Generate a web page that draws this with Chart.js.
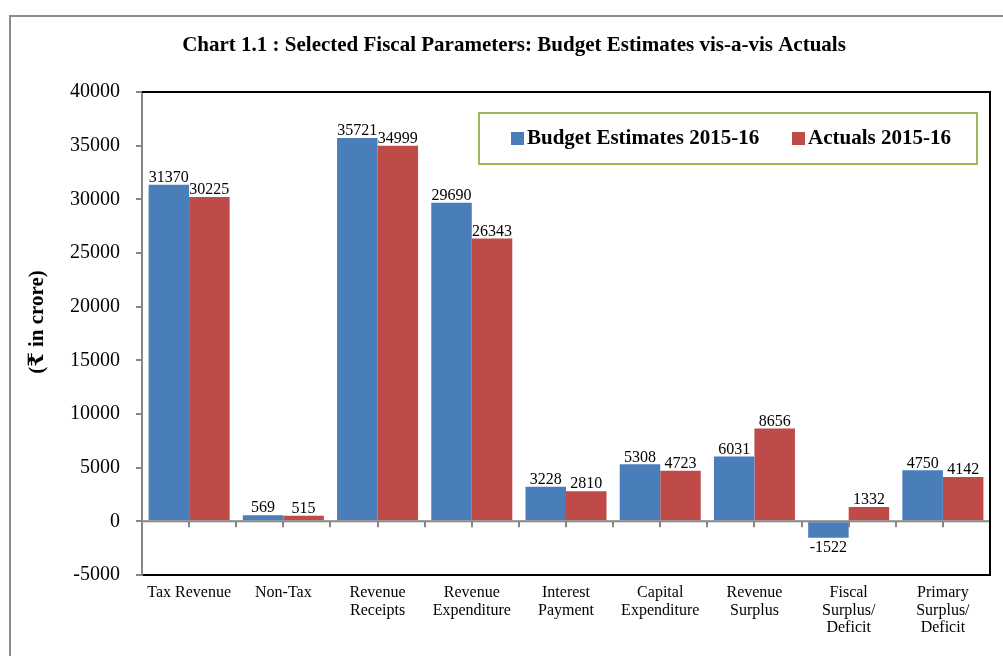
<!DOCTYPE html>
<html>
<head>
<meta charset="utf-8">
<script src="https://cdn.jsdelivr.net/npm/chart.js@4.4.0/dist/chart.umd.min.js"></script>
<style>
  html, body { margin: 0; padding: 0; background: #fff; }
  canvas { display: block; }
</style>
</head>
<body>
<canvas id="myChart" width="1003" height="656"></canvas>
<script>
const categories = [
  ['Tax Revenue'],
  ['Non-Tax'],
  ['Revenue', 'Receipts'],
  ['Revenue', 'Expenditure'],
  ['Interest', 'Payment'],
  ['Capital', 'Expenditure'],
  ['Revenue', 'Surplus'],
  ['Fiscal', 'Surplus/', 'Deficit'],
  ['Primary', 'Surplus/', 'Deficit']
]
const budgetEstimates = [31370, 569, 35721, 29690, 3228, 5308, 6031, -1522, 4750]
const actuals = [30225, 515, 34999, 26343, 2810, 4723, 8656, 1332, 4142]
const seriesNames = ['Budget Estimates 2015-16', 'Actuals 2015-16']
const seriesColors = ['#4a7ebb', '#be4b48']
const chartTitle = 'Chart 1.1 : Selected Fiscal Parameters: Budget Estimates vis-a-vis Actuals'
const yTitle = '(\u20B9 in crore)'

const serif = '"Liberation Serif", "DejaVu Serif", serif'

// frame, title, legend box, axis title, borders and value labels
const decorations = {
  id: 'decorations',
  beforeDraw(chart) {
    const ctx = chart.ctx
    ctx.save()
    ctx.strokeStyle = '#8c8c8c'
    ctx.lineWidth = 2
    ctx.beginPath()
    ctx.moveTo(10, 656)
    ctx.lineTo(10, 16)
    ctx.lineTo(1003, 16)
    ctx.stroke()
    ctx.restore()
  },
  afterDatasetsDraw(chart) {
    const ctx = chart.ctx
    const area = chart.chartArea
    const y = chart.scales.y
    const zero = y.getPixelForValue(0)
    ctx.save()

    // zero line with half-category ticks
    ctx.strokeStyle = '#868686'
    ctx.lineWidth = 2
    ctx.beginPath()
    ctx.moveTo(area.left, zero)
    ctx.lineTo(area.right, zero)
    const step = (area.right - area.left) / (categories.length * 2)
    for (let i = 1; i <= categories.length * 2; i++) {
      const x = Math.round(area.left + i * step)
      ctx.moveTo(x, zero)
      ctx.lineTo(x, zero + 6)
    }
    ctx.stroke()

    // top and right border of plot
    ctx.strokeStyle = '#000'
    ctx.lineWidth = 2
    ctx.beginPath()
    ctx.moveTo(area.left, area.top)
    ctx.lineTo(area.right, area.top)
    ctx.lineTo(area.right, area.bottom)
    ctx.stroke()

    // value labels
    ctx.fillStyle = '#000'
    ctx.font = '16px ' + serif
    ctx.textAlign = 'center'
    chart.data.datasets.forEach((ds, di) => {
      chart.getDatasetMeta(di).data.forEach((bar, i) => {
        const v = ds.data[i]
        if (v >= 0) {
          ctx.textBaseline = 'bottom'
          ctx.fillText(String(v), bar.x, bar.y + 1)
        } else {
          ctx.textBaseline = 'top'
          ctx.fillText(String(v), bar.x, bar.y + 2)
        }
      })
    })

    // title
    ctx.font = 'bold 21px ' + serif
    ctx.textBaseline = 'middle'
    ctx.fillText(chartTitle, 514, 46)

    // y axis title
    ctx.save()
    ctx.translate(38, 322)
    ctx.rotate(-Math.PI / 2)
    ctx.fillText(yTitle, 0, 0)
    ctx.restore()

    // legend box
    ctx.strokeStyle = '#9bbb59'
    ctx.lineWidth = 2
    ctx.strokeRect(479, 113, 498, 51)
    ctx.font = 'bold 21px ' + serif
    ctx.textAlign = 'left'
    const legendX = [511, 792]
    chart.data.datasets.forEach((ds, di) => {
      ctx.fillStyle = ds.backgroundColor
      ctx.fillRect(legendX[di], 132, 13, 13)
      ctx.fillStyle = '#000'
      ctx.fillText(ds.label, legendX[di] + 16, 139)
    })
    ctx.restore()
  }
}

const ctx = document.getElementById('myChart').getContext('2d')
new Chart(ctx, {
  type: 'bar',
  data: {
    labels: categories,
    datasets: [
      {
        label: seriesNames[0],
        data: budgetEstimates,
        backgroundColor: seriesColors[0],
        borderWidth: 0,
        barPercentage: 1.0,
        categoryPercentage: 0.86
      },
      {
        label: seriesNames[1],
        data: actuals,
        backgroundColor: seriesColors[1],
        borderWidth: 0,
        barPercentage: 1.0,
        categoryPercentage: 0.86
      }
    ]
  },
  options: {
    responsive: false,
    animation: false,
    devicePixelRatio: 1,
    layout: { padding: { left: 10, top: 92, right: 13, bottom: 0 } },
    plugins: {
      legend: { display: false },
      tooltip: { enabled: false },
      title: { display: false }
    },
    scales: {
      x: {
        afterFit: (scale) => { scale.height = 81 },
        grid: { display: false, drawTicks: false },
        border: { display: true, color: '#000', width: 2 },
        ticks: {
          color: '#000',
          font: { family: serif, size: 16, lineHeight: 1.1 },
          padding: 9,
          maxRotation: 0,
          autoSkip: false
        }
      },
      y: {
        min: -5000,
        max: 40000,
        afterFit: (scale) => { scale.width = 132 },
        grid: {
          drawOnChartArea: false,
          drawTicks: true,
          tickLength: 6,
          color: '#868686',
          lineWidth: 2
        },
        border: { display: true, color: '#868686', width: 2 },
        ticks: {
          stepSize: 5000,
          color: '#000',
          padding: 16,
          font: { family: serif, size: 20 },
          callback: (v) => String(v)
        }
      }
    }
  },
  plugins: [decorations]
})
</script>
</body>
</html>
